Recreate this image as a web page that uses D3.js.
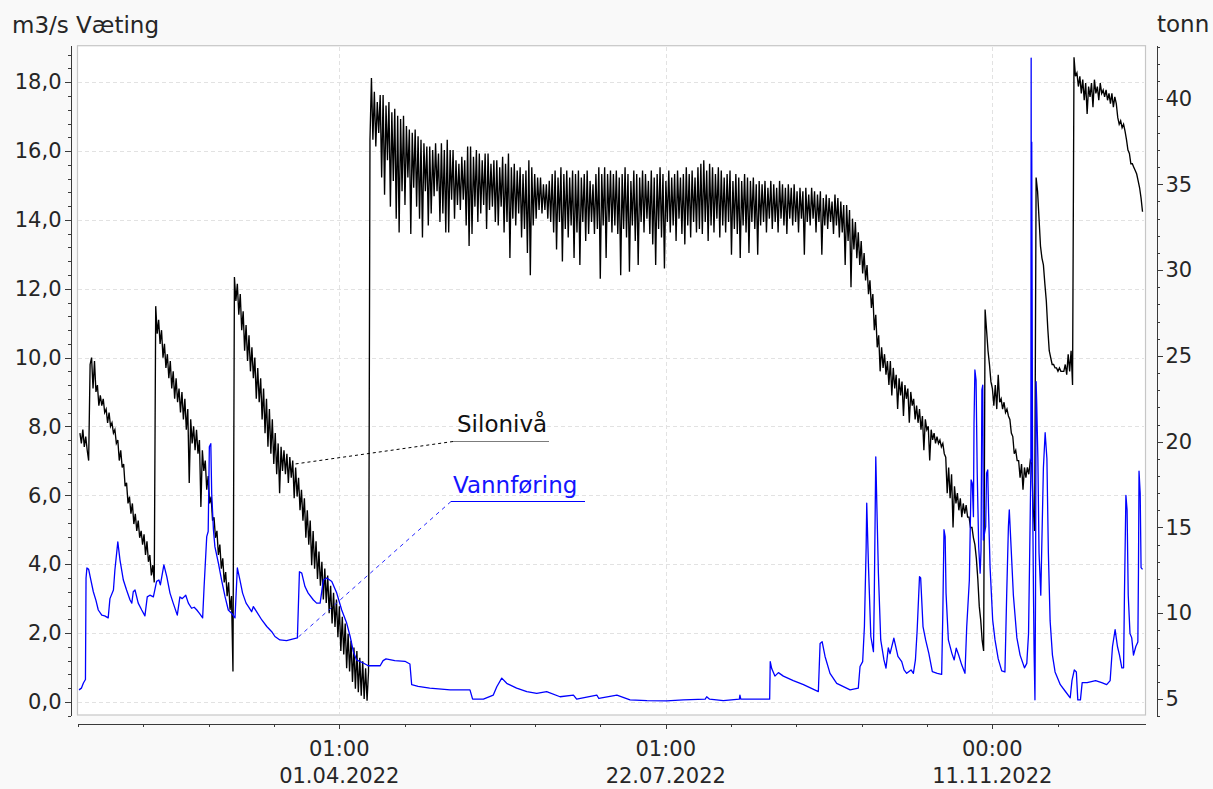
<!DOCTYPE html>
<html>
<head>
<meta charset="utf-8">
<script src="https://cdn.jsdelivr.net/npm/d3@7"></script>
<style>
  html, body { margin: 0; padding: 0; background: #f9f9f9; }
  svg { display: block; font-family: "DejaVu Sans", sans-serif; }
</style>
</head>
<body>
<svg id="chart" width="1213" height="789"></svg>
<script>
(function () {
  "use strict";

  // ---- data ----
  // days are counted from 2022-01-01 00:00 UTC
  const leftTicks = [0, 2, 4, 6, 8, 10, 12, 14, 16, 18];
  const rightTicks = [5, 10, 15, 20, 25, 30, 35, 40];
  const xMajorTimes = ["2022-03-31T23:00:00Z", "2022-07-21T23:00:00Z", "2022-11-10T23:00:00Z"];
  const xTimeLabels = ["01:00", "01:00", "00:00"];
  const xDateLabels = ["01.04.2022", "22.07.2022", "11.11.2022"];

  // Silonivå (tonn), one value every 12 h from day 1
  const siloStartDay = 1;
  const siloStepDays = 0.5;
  const siloniva = [
    20.5,19.9, 20.7,19.7, 20.3,19.5, 18.9,24.5, 24.9,23.1,
    24.7,22.9, 23.3,22.1, 22.7,22.1, 22.5,21.7, 21.9,21.1,
    21.7,20.9, 21.1,20.5, 20.7,19.9, 20.1,18.9, 19.5,18.5,
    18.7,17.4, 17.6,16.4, 16.8,15.8, 16.4,15.2, 15.8,14.8,
    15.4,14.4, 14.8,14.0, 14.6,13.4, 14.2,13.0, 13.4,12.2,
    12.8,11.8, 27.9,26.3, 27.1,25.7, 26.5,24.9, 25.7,24.3,
    25.1,23.7, 24.7,23.1, 24.1,22.5, 23.7,22.3, 23.1,21.7,
    22.9,21.3, 22.5,20.7, 21.9,17.6, 21.3,19.9, 20.9,19.5,
    20.7,19.3, 20.1,16.2, 19.5,18.3, 18.9,17.2, 18.0,16.4,
    16.8,15.4, 15.6,14.4, 14.8,13.4, 14.0,12.6, 13.2,11.8,
    12.4,11.0, 11.8,10.2, 11.0,6.6, 29.6,28.2, 29.2,27.4,
    28.6,26.5, 27.6,25.3, 26.8,24.7, 26.2,24.1, 25.5,23.7,
    24.9,22.5, 24.3,22.3, 23.7,21.3, 23.1,20.5, 22.5,19.7,
    21.9,19.3, 21.3,18.7, 20.5,18.1, 19.9,17.0, 19.7,18.3,
    19.5,18.1, 19.3,17.6, 19.1,17.9, 18.9,16.7, 18.5,16.8,
    17.9,16.0, 17.2,15.4, 16.7,14.4, 16.0,14.0, 15.4,12.8,
    14.8,12.6, 14.2,12.0, 13.6,11.6, 13.0,10.8, 12.6,10.6,
    12.2,10.0, 11.6,9.4, 11.2,9.2, 10.8,8.6, 10.4,7.8,
    9.8,7.6, 9.4,6.8, 8.8,6.6, 8.4,6.0, 8.0,5.6,
    7.8,5.4, 7.4,5.2, 7.2,5.0, 6.8,4.9, 6.6,37.6,
    41.2,37.6, 40.4,37.2, 39.8,38.0, 40.2,35.4, 40.2,34.4,
    39.6,36.4, 39.8,33.7, 39.2,35.2, 39.4,33.0, 39.0,32.2,
    38.8,34.6, 39.0,33.8, 38.4,35.4, 38.2,32.1, 38.0,34.8,
    38.2,33.7, 37.8,33.0, 37.6,31.9, 37.4,34.6, 37.2,32.6,
    37.2,33.3, 37.0,34.3, 37.4,34.6, 36.8,32.8, 37.4,33.3,
    37.0,32.2, 37.6,32.2, 37.0,34.1, 37.0,33.0, 36.4,33.8,
    36.2,33.5, 36.6,34.1, 36.4,32.6, 37.2,31.4, 37.2,32.1,
    36.6,33.7, 37.0,32.8, 36.8,33.3, 36.4,33.8, 36.8,32.4,
    36.8,33.5, 36.2,33.7, 36.4,32.8, 36.4,32.6, 36.0,33.7,
    36.6,32.2, 36.2,32.8, 36.8,30.7, 36.0,33.0, 36.2,32.6,
    35.8,33.3, 36.0,31.9, 35.6,32.4, 35.8,31.0, 36.4,29.7,
    36.0,32.6, 35.6,33.0, 35.4,33.5, 35.4,33.3, 35.0,33.5,
    35.0,33.0, 35.2,32.8, 35.6,32.2, 35.8,31.2, 35.4,32.8,
    36.0,30.5, 35.6,32.4, 35.8,31.9, 35.4,32.6, 35.8,30.7,
    35.6,32.2, 35.8,30.3, 35.4,32.8, 35.6,31.7, 35.8,32.1,
    35.2,32.8, 35.0,32.1, 35.6,32.4, 36.0,29.5, 35.6,32.6,
    36.0,30.7, 35.6,32.8, 35.8,32.2, 35.6,32.6, 35.8,32.1,
    35.4,29.7, 35.6,32.4, 36.0,31.9, 35.6,29.9, 35.2,32.6,
    35.8,31.7, 35.6,30.3, 35.4,32.8, 35.8,32.2, 35.6,33.0,
    35.2,32.1, 35.8,31.5, 35.4,30.3, 35.6,32.4, 36.0,31.9,
    35.6,30.1, 35.2,32.8, 35.8,32.2, 35.4,32.6, 35.6,31.7,
    35.8,33.0, 35.4,32.1, 35.6,31.5, 36.0,32.6, 35.6,31.9,
    35.8,32.8, 35.4,32.2, 36.0,32.4, 36.2,32.1, 36.4,32.8,
    35.8,31.7, 36.2,32.6, 36.0,32.2, 35.6,33.0, 36.0,31.9,
    35.8,32.6, 35.4,32.2, 35.6,32.8, 35.8,30.9, 35.2,32.4,
    35.6,32.1, 35.4,30.7, 35.2,32.6, 35.6,32.2, 35.4,31.0,
    35.2,32.8, 35.4,32.4, 35.0,30.9, 35.2,32.6, 35.0,32.8,
    35.2,32.2, 34.8,33.0, 35.2,32.4, 35.0,32.8, 34.8,32.2,
    35.2,33.0, 35.0,32.6, 34.8,32.1, 35.0,33.0, 34.8,32.6,
    35.0,32.8, 34.6,32.2, 34.8,33.0, 34.6,30.9, 34.8,32.8,
    34.4,32.6, 34.8,33.0, 34.6,32.2, 34.4,32.8, 34.6,30.9,
    34.2,32.6, 34.4,32.4, 34.2,32.8, 34.0,32.1, 34.4,32.6,
    34.2,31.9, 34.0,32.2, 33.8,30.3, 33.8,31.7, 33.5,29.0,
    33.0,31.2, 32.8,30.7, 32.2,30.3, 31.7,29.8, 31.0,29.4,
    30.3,28.6, 29.4,27.8, 28.6,26.5, 27.4,25.5, 26.2,24.1,
    25.5,24.3, 25.1,23.9, 24.7,23.3, 24.7,22.7, 24.3,23.1,
    23.9,21.9, 23.7,22.7, 23.5,21.5, 23.3,22.5, 23.1,21.1,
    22.9,22.1, 22.5,21.3, 22.1,21.1, 21.9,20.7, 21.5,19.5,
    21.3,20.7, 20.9,18.9, 20.7,20.1, 20.5,19.9, 20.3,19.9,
    20.1,19.7, 19.9,19.3, 19.1,17.0, 18.5,16.7, 18.1,15.0,
    17.4,16.4, 17.0,16.0, 16.7,15.6, 16.4,15.8, 16.3,15.6,
    15.6,15.0, 15.0,14.4, 14.0,13.2, 12.0,10.4, 9.6,8.4,
    7.8,27.7, 26.5,25.3, 24.5,23.5, 23.1,22.1, 23.3,21.9,
    23.9,22.3, 22.5,21.9, 22.3,21.7, 21.9,21.5, 21.3,20.5,
    20.3,19.3, 19.5,18.9, 18.9,17.9, 18.7,17.2, 18.5,17.9,
    18.5,18.1, 18.9,18.7, 16.1,14.8, 35.4,34.6, 33.0,31.4,
    30.7,30.3, 29.2,28.2, 26.6,25.3, 24.9,24.5, 24.5,24.3,
    24.3,24.1, 24.3,24.1, 24.1,24.1, 24.5,23.9, 25.1,24.1,
    25.3,23.3, 42.4,41.3, 41.5,40.7, 41.3,40.3, 41.1,39.9,
    40.9,39.1, 40.7,40.1, 40.9,39.5, 41.1,40.3, 40.7,39.9,
    40.9,40.3, 40.5,40.1, 40.5,39.9, 40.3,39.7, 40.3,39.5,
    40.1,39.7, 38.9,38.5, 38.7,38.3, 38.5,38.1, 37.6,37.0,
    36.8,36.2, 36.2,36.0, 35.8,35.6, 35.2,34.8, 34.2,33.4
  ];

  // Vannføring (m3/s): [day, value]
  const vannforing = [
    [0.7,0.35],[1.5,0.4],[2.2,0.55],[2.9,0.65],[3.1,3.6],[3.4,3.89],[4.0,3.85],[4.6,3.6],
    [5.6,3.2],[6.5,2.95],[7.3,2.67],[8.5,2.52],[9.5,2.5],[10.7,2.44],[11.3,3.0],[12.5,3.25],
    [13.0,3.83],[14.0,4.65],[14.75,4.12],[15.9,3.54],[17.0,3.25],[18.2,2.96],[18.8,2.87],
    [19.3,3.2],[19.9,3.25],[21.0,2.87],[22.2,2.67],[23.3,2.5],[24.1,3.05],[25.0,3.1],
    [26.2,3.05],[27.3,3.5],[28.1,3.54],[28.6,3.4],[29.8,3.98],[30.8,3.64],[31.9,3.16],
    [33.0,2.87],[34.4,2.52],[35.3,3.05],[36.1,3.0],[37.3,3.1],[38.2,2.87],[39.3,2.72],
    [40.2,2.75],[41.1,2.67],[42.0,2.57],[43.1,2.44],[43.6,3.35],[44.5,4.8],[45.0,4.95],
    [45.4,7.41],[45.9,7.5],[46.2,6.07],[46.8,5.0],[47.3,4.51],[48.5,4.03],[49.6,3.54],
    [50.8,3.05],[51.9,2.67],[53.1,2.57],[54.2,2.44],[55.0,3.89],[55.9,3.54],[56.8,3.16],
    [58.0,2.87],[58.8,2.77],[59.9,2.62],[60.5,2.77],[61.6,2.62],[63.4,2.38],[65.1,2.19],
    [66.8,2.04],[67.9,1.9],[69.6,1.8],[71.9,1.78],[74.2,1.83],[75.6,1.86],[76.3,3.78],
    [77.1,3.74],[78.2,3.35],[79.3,3.16],[81.1,2.96],[82.2,2.87],[83.4,2.87],[84.5,3.54],
    [85.7,3.6],[87.4,3.5],[89.1,3.16],[90.8,2.67],[92.5,2.29],[93.7,1.9],[94.8,1.46],
    [95.9,1.22],[98.2,1.13],[99.9,1.05],[104.0,1.05],[105.0,1.2],[106.0,1.25],[109.0,1.2],
    [112.5,1.18],[114.2,1.1],[114.8,0.5],[117,0.45],[121,0.4],[128,0.35],[134.8,0.35],
    [135.7,0.08],[139.4,0.08],[142.8,0.2],[144,0.44],[145.7,0.69],[147.4,0.54],[150.8,0.4],
    [154.3,0.3],[157.7,0.25],[161.1,0.3],[165.7,0.15],[170.3,0.2],[171.4,0.08],[178.3,0.2],
    [179,0.1],[185.2,0.2],[189.7,0.06],[195.5,0.04],[202.3,0.03],[208,0.06],[215.5,0.08],
    [216,0.15],[217,0.08],[221.7,0.04],[227.2,0.08],[227.4,0.2],[227.7,0.08],[237.6,0.08],
    [237.8,1.17],[238.3,0.97],[239.4,0.75],[240.6,0.85],[242.3,0.75],[245.7,0.62],
    [249.2,0.5],[254.3,0.3],[254.9,1.7],[255.6,1.75],[256.6,1.32],[258.3,0.83],[260.6,0.54],
    [265.2,0.35],[268.0,0.4],[268.6,1.03],[269.5,1.17],[270.1,2.19],[270.7,4.5],[270.9,5.77],
    [271.5,3.93],[272.3,1.9],[273.2,1.46],[273.5,3.16],[274.0,7.12],[274.3,5.96],[274.9,3.74],
    [275.7,1.8],[276.8,1.22],[277.5,0.98],[278.3,1.57],[278.9,1.4],[280.2,1.85],[281.6,1.32],
    [282.9,1.17],[283.7,0.93],[284.6,0.83],[286.1,0.93],[286.9,0.83],[287.6,1.22],[288.2,2.09],
    [289.0,3.64],[289.4,3.6],[290.2,2.19],[291.1,1.8],[292.2,1.41],[293.4,0.88],[295.1,0.83],
    [296.6,0.8],[297.0,2.58],[297.4,5.0],[297.8,4.8],[298.1,3.16],[298.9,1.8],[300.1,1.41],
    [300.9,1.22],[301.6,1.56],[302.4,1.37],[303.5,1.07],[304.6,0.83],[305.2,2.19],[306.1,3.54],
    [306.7,6.45],[307.1,6.35],[307.5,5.38],[307.7,8.1],[308.0,9.64],[308.4,9.35],[308.8,6.64],
    [309.3,4.5],[309.8,3.74],[310.1,4.4],[310.4,9.06],[310.7,9.2],[310.9,4.7],[311.7,5.09],
    [312.0,6.64],[312.4,6.74],[312.7,5.48],[313.2,3.93],[314.1,2.38],[314.9,1.8],[316.0,1.25],
    [317.2,0.9],[318.3,0.87],[318.9,3.1],[319.5,5.1],[319.8,5.58],[320.3,4.7],[321.2,3.1],
    [322.4,1.86],[323.5,1.36],[325.0,0.99],[325.8,1.12],[326.4,1.98],[326.8,4.34],[327.2,6.8],
    [327.3,18.7],[327.4,7.0],[327.5,16.26],[327.8,6.0],[328.1,3.1],[328.3,1.5],[328.6,0.06],
    [328.8,3.1],[329.0,9.3],[329.2,8.7],[329.6,7.1],[330.0,4.34],[330.6,3.1],[330.9,4.34],
    [331.5,6.8],[332.1,7.82],[332.7,7.07],[333.2,4.34],[333.8,2.36],[334.6,1.36],[335.5,0.87],
    [337.3,0.5],[339.0,0.31],[340.7,0.12],[341.3,0.62],[342.1,0.93],[342.8,0.87],[343.3,0.06],
    [344.2,0.06],[344.8,0.56],[346.5,0.56],[349.4,0.62],[351.5,0.56],[353.2,0.5],[354.4,0.62],
    [355.2,1.61],[356.1,2.1],[356.9,1.61],[357.6,1.36],[358.4,0.99],[359.0,0.99],[359.3,3.1],
    [359.8,6.0],[360.2,5.58],[360.6,3.1],[361.2,1.99],[361.8,1.86],[362.4,1.36],[363.2,1.61],
    [363.9,1.74],[364.1,3.72],[364.3,6.7],[364.7,6.06],[365.0,3.9],[365.5,3.85]
  ];

  // where the label leaders touch the series: [day, value]
  const siloLabelAnchor = [74.8, 18.7];
  const flowLabelAnchor = [75.6, 1.86];

  // ---- layout ----
  const DAY = 86400000;
  const t0 = Date.UTC(2022, 0, 1);
  const dayToDate = (d) => new Date(t0 + d * DAY);

  const plot = { left: 77, right: 1145, top: 45.7, bottom: 715 };
  const leftAxisX = 70.5;
  const rightAxisX = 1156.5;
  const bottomAxisY = 723.5;
  const ink = "#262626";
  const axisColor = "#3a3a3a";

  const x = d3.scaleUtc()
    .domain([dayToDate(0), dayToDate(366.35)])
    .range([plot.left, plot.right]);
  const yLeft = d3.scaleLinear().domain([-0.38, 19.06]).range([plot.bottom, plot.top]);
  const yRight = d3.scaleLinear().domain([4.07, 43.08]).range([plot.bottom, plot.top]);

  const fmtComma = d3.formatLocale({ decimal: ",", thousands: " ", grouping: [3], currency: ["", ""] }).format(".1f");

  const svg = d3.select("#chart");

  svg.append("rect").attr("width", 1213).attr("height", 789).attr("fill", "#f9f9f9");

  svg.append("rect")
    .attr("x", plot.left + 0.5).attr("y", plot.top)
    .attr("width", plot.right - plot.left).attr("height", plot.bottom - plot.top)
    .attr("fill", "#fff")
    .attr("stroke", "#c6c6c6")
    .attr("stroke-width", 1.2);

  // grid
  const majorDates = xMajorTimes.map((s) => new Date(s));
  const grid = svg.append("g")
    .attr("stroke", "#e2e2e2")
    .attr("stroke-dasharray", "4,3")
    .attr("shape-rendering", "crispEdges");
  grid.selectAll("line.h").data(leftTicks).join("line")
    .attr("class", "h")
    .attr("x1", plot.left + 1).attr("x2", plot.right - 1)
    .attr("y1", (d) => Math.round(yLeft(d)) + 0.5)
    .attr("y2", (d) => Math.round(yLeft(d)) + 0.5);
  grid.selectAll("line.v").data(majorDates).join("line")
    .attr("class", "v")
    .attr("x1", (d) => Math.round(x(d)) + 0.5).attr("x2", (d) => Math.round(x(d)) + 0.5)
    .attr("y1", plot.top + 1).attr("y2", plot.bottom - 1);

  // series
  svg.append("clipPath").attr("id", "plot-clip")
    .append("rect")
    .attr("x", plot.left).attr("y", plot.top)
    .attr("width", plot.right - plot.left).attr("height", plot.bottom - plot.top);

  const series = svg.append("g").attr("clip-path", "url(#plot-clip)");

  const siloLine = d3.line()
    .x((v, i) => x(dayToDate(siloStartDay + i * siloStepDays)))
    .y((v) => yRight(v));
  series.append("path")
    .attr("class", "silo")
    .attr("d", siloLine(siloniva))
    .attr("fill", "none")
    .attr("stroke", "#000")
    .attr("stroke-width", 1.35);

  const flowLine = d3.line()
    .x((p) => x(dayToDate(p[0])))
    .y((p) => yLeft(p[1]));
  series.append("path")
    .attr("class", "flow")
    .attr("d", flowLine(vannforing))
    .attr("fill", "none")
    .attr("stroke", "#0000ff")
    .attr("stroke-width", 1.3)
    .attr("stroke-linejoin", "round");

  // axes
  function styleAxis(g) {
    g.attr("font-family", null).attr("font-size", null);
    g.selectAll("path.domain").attr("stroke", axisColor).attr("shape-rendering", "crispEdges");
    g.selectAll(".tick line").attr("stroke", axisColor).attr("shape-rendering", "crispEdges");
    g.selectAll(".tick text").attr("fill", ink).attr("font-size", 21);
  }

  const leftMinor = d3.range(-1, 48).map((i) => +(i * 0.4).toFixed(1))
    .filter((v) => v >= -0.4 && v <= 19);
  svg.append("g")
    .attr("transform", `translate(${leftAxisX},0)`)
    .call(d3.axisLeft(yLeft).tickValues(leftMinor).tickSize(3).tickSizeOuter(0).tickFormat(""))
    .call(styleAxis);
  svg.append("g")
    .attr("transform", `translate(${leftAxisX},0)`)
    .call(d3.axisLeft(yLeft).tickValues(leftTicks).tickSize(6).tickSizeOuter(0).tickPadding(3).tickFormat(fmtComma))
    .call(styleAxis)
    .call((g) => g.select("path.domain").remove());

  const rightMinor = d3.range(4, 44);
  svg.append("g")
    .attr("transform", `translate(${rightAxisX},0)`)
    .call(d3.axisRight(yRight).tickValues(rightMinor).tickSize(3).tickSizeOuter(0).tickFormat(""))
    .call(styleAxis);
  svg.append("g")
    .attr("transform", `translate(${rightAxisX},0)`)
    .call(d3.axisRight(yRight).tickValues(rightTicks).tickSize(6).tickSizeOuter(0).tickPadding(3))
    .call(styleAxis)
    .call((g) => g.select("path.domain").remove());

  const xMinor = d3.range(-4, 12)
    .map((k) => new Date(majorDates[0].getTime() + k * 22.4 * DAY))
    .filter((d) => d >= x.domain()[0] && d <= x.domain()[1]);
  svg.append("g")
    .attr("transform", `translate(0,${bottomAxisY})`)
    .call(d3.axisBottom(x).tickValues(xMinor).tickSize(3).tickSizeOuter(0).tickFormat(""))
    .call(styleAxis);
  svg.append("g")
    .attr("transform", `translate(0,${bottomAxisY})`)
    .call(d3.axisBottom(x).tickValues(majorDates).tickSize(5).tickSizeOuter(0).tickFormat(""))
    .call(styleAxis)
    .call((g) => g.select("path.domain").remove());

  const xLabels = svg.append("g")
    .attr("fill", ink)
    .attr("font-size", 21)
    .attr("text-anchor", "middle");
  xLabels.selectAll("text.time").data(majorDates).join("text")
    .attr("class", "time")
    .attr("x", (d) => x(d))
    .attr("y", 756)
    .text((d, i) => xTimeLabels[i]);
  xLabels.selectAll("text.date").data(majorDates).join("text")
    .attr("class", "date")
    .attr("x", (d) => x(d))
    .attr("y", 783)
    .text((d, i) => xDateLabels[i]);

  // axis titles
  svg.append("text")
    .attr("x", 12).attr("y", 33)
    .attr("font-size", 23).attr("fill", ink)
    .text("m3/s Væting");
  svg.append("text")
    .attr("x", 1157).attr("y", 32)
    .attr("font-size", 23).attr("fill", ink)
    .text("tonn");

  // series labels with leaders
  const labels = svg.append("g");

  const siloUnder = { x1: 453, x2: 549, y: 441.5 };
  labels.append("line")
    .attr("x1", siloUnder.x1).attr("y1", siloUnder.y)
    .attr("x2", x(dayToDate(siloLabelAnchor[0]))).attr("y2", yRight(siloLabelAnchor[1]))
    .attr("stroke", "#000").attr("stroke-width", 1).attr("stroke-dasharray", "3,3");
  labels.append("line")
    .attr("x1", siloUnder.x1).attr("x2", siloUnder.x2)
    .attr("y1", siloUnder.y).attr("y2", siloUnder.y)
    .attr("stroke", "#7c7c7c").attr("stroke-width", 1.2);
  labels.append("text")
    .attr("x", 457).attr("y", 432)
    .attr("font-size", 23).attr("fill", "#111")
    .text("Silonivå");

  const flowUnder = { x1: 451, x2: 585, y: 501.5 };
  labels.append("line")
    .attr("x1", flowUnder.x1).attr("y1", flowUnder.y)
    .attr("x2", x(dayToDate(flowLabelAnchor[0]))).attr("y2", yLeft(flowLabelAnchor[1]))
    .attr("stroke", "#2a2aff").attr("stroke-width", 1).attr("stroke-dasharray", "4,4");
  labels.append("line")
    .attr("x1", flowUnder.x1).attr("x2", flowUnder.x2)
    .attr("y1", flowUnder.y).attr("y2", flowUnder.y)
    .attr("stroke", "#0000ff").attr("stroke-width", 1.2);
  labels.append("text")
    .attr("x", 453).attr("y", 493)
    .attr("font-size", 23).attr("fill", "#1414ff")
    .text("Vannføring");
})();
</script>
</body>
</html>
